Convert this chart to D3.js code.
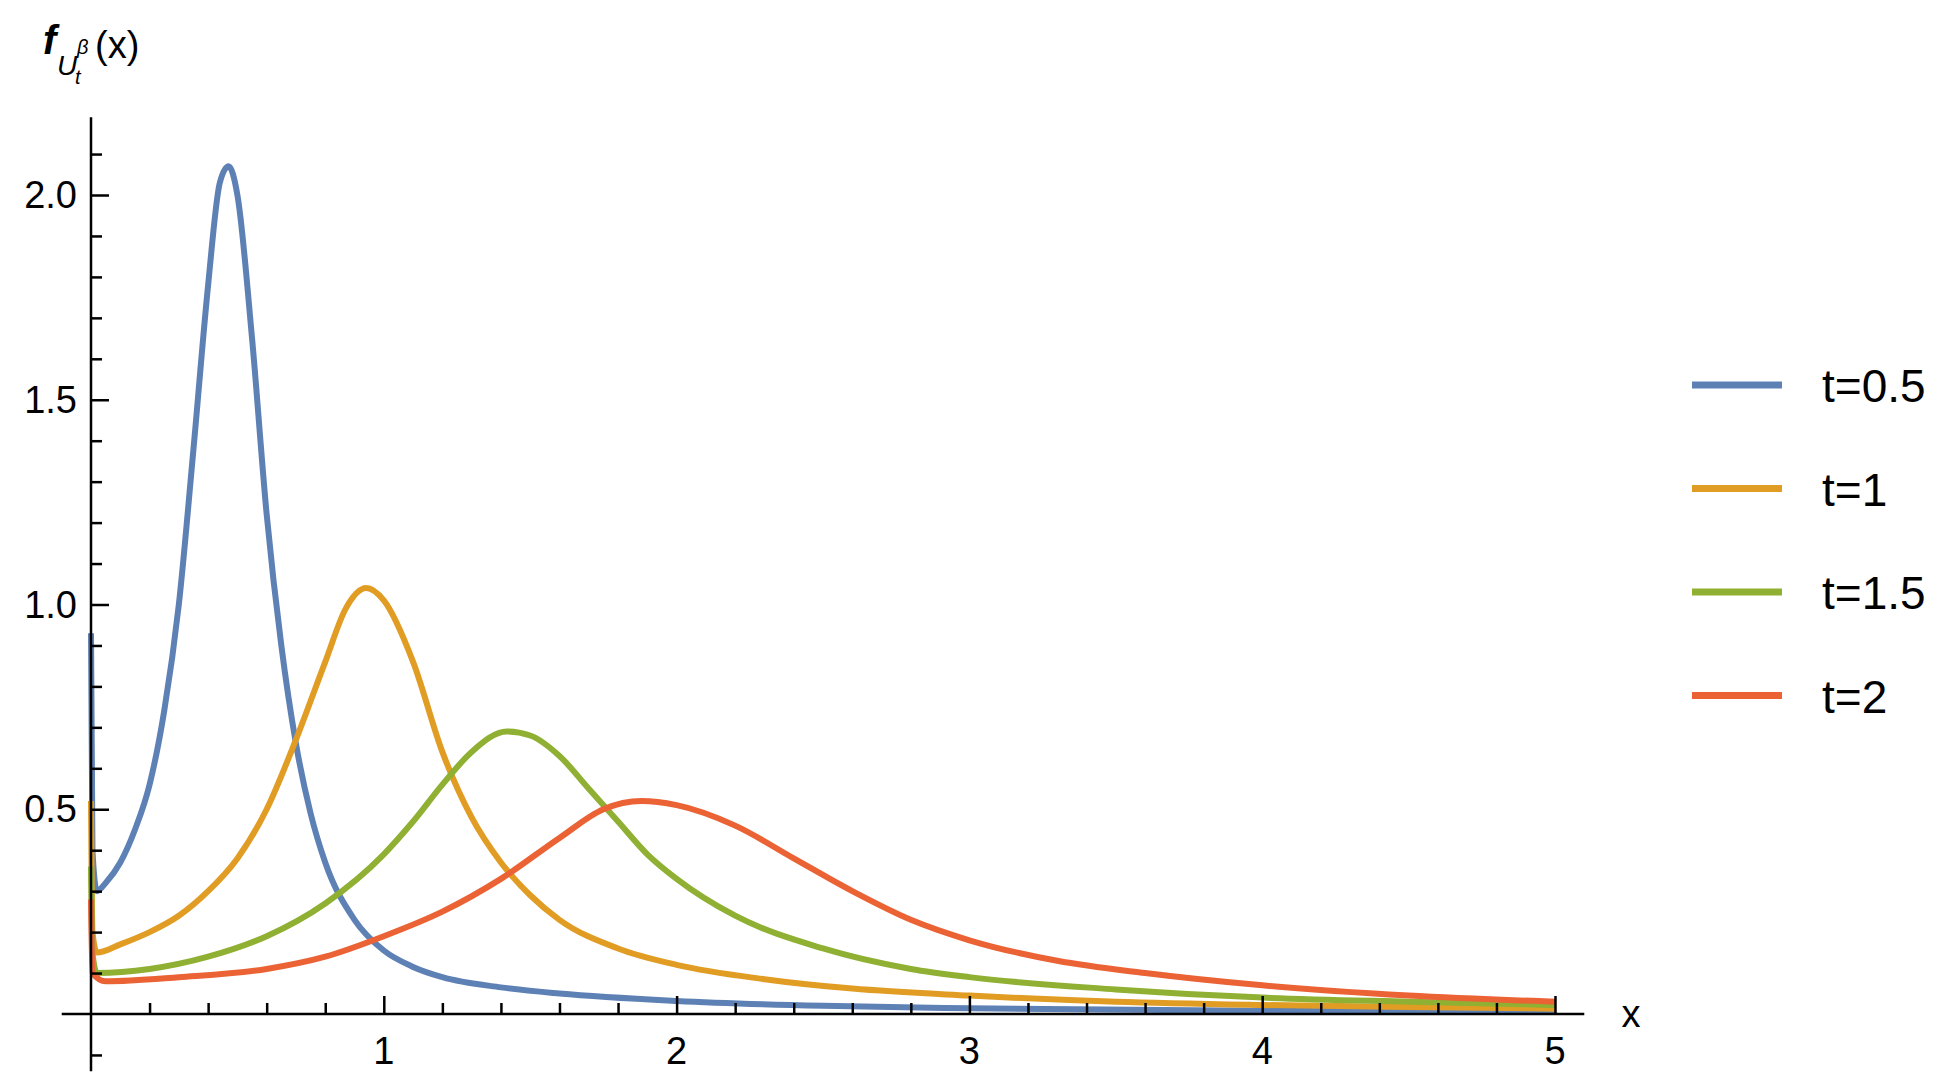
<!DOCTYPE html>
<html><head><meta charset="utf-8">
<script src="https://cdnjs.cloudflare.com/ajax/libs/d3/7.8.5/d3.min.js"></script>
<style>body{margin:0;background:#fff}svg{font-family:"Liberation Sans",Arial,sans-serif}</style>
</head><body><svg id="chart" width="1959" height="1087"></svg>
<script>
var seriesNames = ["t=0.5", "t=1", "t=1.5", "t=2"];
var seriesColors = ["#5e81b5", "#e19c24", "#8fb032", "#eb6235"];
var blue = [[0,0.93],[0.005,0.4],[0.02,0.30],[0.05,0.32],[0.1,0.37],[0.15,0.45],[0.2,0.56],[0.25,0.74],[0.3,1.0],[0.35,1.38],[0.4,1.78],[0.44,2.03],[0.47,2.07],[0.5,2.0],[0.55,1.65],[0.6,1.22],[0.65,0.9],[0.7,0.66],[0.75,0.49],[0.8,0.37],[0.9,0.23],[1.0,0.155],[1.1,0.115],[1.2,0.09],[1.4,0.065],[1.6,0.05],[2,0.032],[2.5,0.02],[3,0.014],[4,0.008],[5,0.005]];
var orange = [[0,0.52],[0.005,0.2],[0.02,0.15],[0.1,0.17],[0.2,0.2],[0.3,0.24],[0.4,0.3],[0.5,0.38],[0.6,0.5],[0.7,0.67],[0.8,0.86],[0.87,0.99],[0.94,1.04],[1.0,1.01],[1.1,0.86],[1.2,0.64],[1.3,0.48],[1.4,0.37],[1.5,0.29],[1.6,0.23],[1.8,0.16],[2,0.12],[2.3,0.085],[2.6,0.062],[3,0.045],[3.5,0.03],[4,0.022],[4.5,0.017],[5,0.013]];
var green = [[0,0.36],[0.005,0.15],[0.02,0.1],[0.2,0.11],[0.4,0.14],[0.6,0.19],[0.8,0.27],[1.0,0.39],[1.1,0.47],[1.2,0.56],[1.3,0.64],[1.42,0.69],[1.5,0.68],[1.6,0.63],[1.7,0.55],[1.8,0.47],[1.9,0.39],[2.0,0.33],[2.2,0.24],[2.5,0.16],[2.8,0.11],[3,0.09],[3.5,0.06],[4,0.04],[4.5,0.03],[5,0.022]];
var red = [[0,0.28],[0.005,0.1],[0.05,0.08],[0.3,0.09],[0.6,0.11],[0.8,0.14],[1.0,0.19],[1.2,0.25],[1.4,0.33],[1.6,0.43],[1.75,0.5],[1.88,0.52],[2.0,0.51],[2.2,0.46],[2.4,0.38],[2.6,0.3],[2.8,0.23],[3,0.18],[3.3,0.13],[3.6,0.1],[4,0.07],[4.5,0.045],[5,0.03]];
var series = [blue, orange, green, red];
var xMajor = [1, 2, 3, 4, 5];
var xMinor = [0.2,0.4,0.6,0.8,1.2,1.4,1.6,1.8,2.2,2.4,2.6,2.8,3.2,3.4,3.6,3.8,4.2,4.4,4.6,4.8];
var yMajor = [0.5, 1.0, 1.5, 2.0];
var yMinor = [-0.1,0.1,0.2,0.3,0.4,0.6,0.7,0.8,0.9,1.1,1.2,1.3,1.4,1.6,1.7,1.8,1.9,2.1];

var svg = d3.select("#chart");
var x = d3.scaleLinear().domain([0, 5]).range([91, 1555]);
var y = d3.scaleLinear().domain([0, 2]).range([1014, 195]);

// curves
var line = d3.line().x(function(d){ return x(d[0]); }).y(function(d){ return y(d[1]); }).curve(d3.curveMonotoneX);
svg.selectAll(".curve").data(series).enter().append("path")
  .attr("class", "curve").attr("d", line).attr("fill", "none")
  .attr("stroke", function(d, i){ return seriesColors[i]; })
  .attr("stroke-width", 6).attr("stroke-linejoin", "round");

// x axis
var gx = svg.append("g").attr("transform", "translate(0," + y(0) + ")");
gx.append("g").call(d3.axisBottom(x).tickValues(xMajor).tickSize(-18).tickFormat("").tickSizeOuter(0));
gx.append("g").call(d3.axisBottom(x).tickValues(xMinor).tickSize(-11).tickFormat("").tickSizeOuter(0));
gx.selectAll(".domain").remove();
gx.append("line").attr("x1", x(-0.1)).attr("x2", x(5.1)).attr("stroke", "#000").attr("stroke-width", 2.5);
gx.selectAll(".tick line").attr("stroke-width", 2.5);
gx.selectAll(".xl").data(xMajor).enter().append("text").attr("class", "xl")
  .attr("x", function(d){ return x(d); }).attr("y", 50).attr("text-anchor", "middle")
  .attr("font-size", 38).text(function(d){ return d; });
gx.append("text").attr("x", 1631).attr("y", 13).attr("text-anchor", "middle").attr("font-size", 38).text("x");

// y axis
var gy = svg.append("g").attr("transform", "translate(" + x(0) + ",0)");
gy.append("g").call(d3.axisLeft(y).tickValues(yMajor).tickSize(-18).tickFormat("").tickSizeOuter(0));
gy.append("g").call(d3.axisLeft(y).tickValues(yMinor).tickSize(-11).tickFormat("").tickSizeOuter(0));
gy.selectAll(".domain").remove();
gy.append("line").attr("y1", y(-0.14)).attr("y2", y(2.19)).attr("stroke", "#000").attr("stroke-width", 2.5);
gy.selectAll(".tick line").attr("stroke-width", 2.5);
gy.selectAll(".yl").data(yMajor).enter().append("text").attr("class", "yl")
  .attr("x", -14).attr("y", function(d){ return y(d) + 13; }).attr("text-anchor", "end")
  .attr("font-size", 38).text(function(d){ return d.toFixed(1); });

// y label
var lab = svg.append("g");
lab.append("text").attr("x", 43).attr("y", 54).attr("font-size", 40).attr("font-style", "italic").attr("font-weight", "bold").text("f");
lab.append("text").attr("x", 57).attr("y", 75).attr("font-size", 28).attr("font-style", "italic").text("U");
lab.append("text").attr("x", 77).attr("y", 54).attr("font-size", 20).attr("font-style", "italic").text("β");
lab.append("text").attr("x", 75).attr("y", 84).attr("font-size", 20).attr("font-style", "italic").text("t");
lab.append("text").attr("x", 95).attr("y", 58).attr("font-size", 38).text("(x)");

// legend
var leg = svg.selectAll(".leg").data(seriesNames).enter().append("g").attr("class", "leg")
  .attr("transform", function(d, i){ return "translate(1692," + (385 + i * 103.5) + ")"; });
leg.append("line").attr("x1", 0).attr("x2", 90).attr("stroke-width", 7)
  .attr("stroke", function(d, i){ return seriesColors[i]; });
leg.append("text").attr("x", 130).attr("y", 17).attr("font-size", 46).text(function(d){ return d; });
</script></body></html>
